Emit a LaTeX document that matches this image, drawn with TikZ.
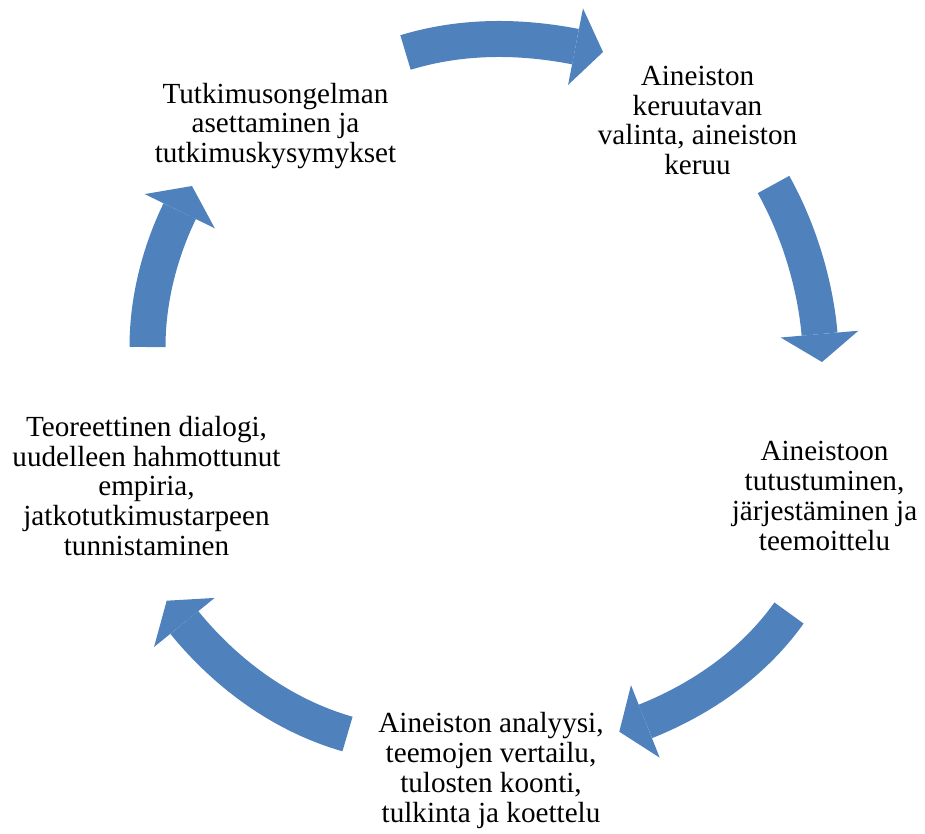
\documentclass[tikz,border=0pt]{standalone}
\usepackage{fontspec}
\setmainfont{Liberation Serif}
\usetikzlibrary{arrows.meta, positioning}
\definecolor{cycleblue}{HTML}{4F81BD}

\begin{document}
\begin{tikzpicture}[
        x=0.02cm, y=-0.02cm,
        stage/.style={align=center, inner sep=0pt, font=\fontsize{16.6}{17}\selectfont},
        cyc/.style={draw=cycleblue, line width=0.72cm, looseness=0.9,
            -{Triangle[length=0.56cm, width=1.56cm, line width=0pt]}}
    ]
    \useasboundingbox (0,0) rectangle (925,833);
    
    \node[stage] (A) at (275.5,126) {Tutkimusongelman\\asettaminen ja\\tutkimuskysymykset};
    \node[stage] (B) at (697.5,120.5) {Aineiston\\keruutavan\\valinta, aineiston\\keruu};
    \node[stage] (C) at (824.5,496) {Aineistoon\\tutustuminen,\\järjestäminen ja\\teemoittelu};
    \node[stage] (D) at (491,770.5) {Aineiston analyysi,\\teemojen vertailu,\\tulosten koonti,\\tulkinta ja koettelu};
    \node[stage] (E) at (146.5,486) {Teoreettinen dialogi,\\uudelleen hahmottunut\\empiria,\\jatkotutkimustarpeen\\tunnistaminen};
    
    \coordinate (AB1) at (405.5,52.5);
    \coordinate (AB2) at (603,52);
    \coordinate (BC1) at (773.5,184.5);
    \coordinate (BC2) at (822,362);
    \coordinate (CD1) at (789,613);
    \coordinate (CD2) at (619.3,731.7);
    \coordinate (DE1) at (347.5,734);
    \coordinate (DE2) at (166.7,600.7);
    \coordinate (EA1) at (147.5,347);
    \coordinate (EA2) at (192,186);
    
    \draw[cyc] (AB1) to[out=17, in=169] (AB2);
    \draw[cyc] (BC1) to[out=-61, in=95] (BC2);
    \draw[cyc] (CD1) to[out=234.5, in=21.6] (CD2);
    \draw[cyc] (DE1) to[out=164, in=-51] (DE2);
    \draw[cyc] (EA1) to[out=90, in=244] (EA2);
    
\end{tikzpicture}
\end{document}
